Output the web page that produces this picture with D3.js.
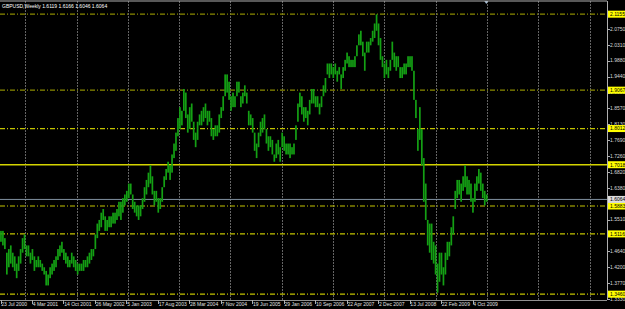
<!DOCTYPE html>
<html>
<head>
<meta charset="utf-8">
<script src="https://cdn.jsdelivr.net/npm/d3@7/dist/d3.min.js"></script>
<style>
body{margin:0;background:#000;overflow:hidden}
text{font-family:"Liberation Sans",Arial,sans-serif}
</style>
</head>
<body>
<svg id="chart" width="625" height="309"></svg>
<script>
//GBPUSD weekly, one low/high pair every second week from the start date
var startDate = "23 Jul 2000";
var lows = [
 1.49,1.48,1.47,1.40,1.42,1.43,1.42,1.41,1.39,1.41,1.43,1.46,1.47,
 1.45,1.45,1.43,1.44,1.41,1.42,1.42,1.42,1.41,1.40,1.37,1.37,1.39,
 1.40,1.41,1.42,1.44,1.45,1.46,1.44,1.43,1.42,1.42,1.43,1.42,1.41,
 1.40,1.41,1.41,1.41,1.42,1.42,1.43,1.44,1.45,1.47,1.50,1.52,1.53,
 1.55,1.52,1.52,1.53,1.53,1.54,1.54,1.55,1.56,1.55,1.57,1.59,1.60,
 1.61,1.62,1.58,1.57,1.56,1.55,1.56,1.58,1.60,1.62,1.64,1.65,1.62,
 1.59,1.60,1.57,1.58,1.60,1.64,1.66,1.68,1.66,1.68,1.72,1.74,1.78,
 1.80,1.81,1.85,1.83,1.79,1.80,1.82,1.77,1.75,1.77,1.81,1.81,1.82,
 1.83,1.81,1.82,1.78,1.77,1.78,1.78,1.79,1.83,1.85,1.89,1.90,1.88,
 1.85,1.86,1.86,1.89,1.90,1.86,1.87,1.89,1.87,1.81,1.81,1.79,1.74,
 1.72,1.75,1.78,1.79,1.80,1.76,1.74,1.75,1.73,1.71,1.72,1.73,1.71,
 1.75,1.74,1.73,1.73,1.72,1.73,1.73,1.77,1.82,1.86,1.84,1.82,1.83,
 1.81,1.84,1.87,1.87,1.86,1.86,1.84,1.86,1.89,1.90,1.95,1.94,1.95,
 1.94,1.95,1.93,1.95,1.91,1.94,1.96,1.98,1.97,1.97,1.97,1.97,2.00,
 2.03,2.03,2.00,1.96,2.01,2.01,2.03,2.04,2.05,2.07,2.03,1.99,1.97,
 1.94,1.95,1.94,1.96,1.99,1.97,1.96,1.97,1.94,1.94,1.95,1.95,1.97,
 1.97,1.96,1.88,1.83,1.74,1.77,1.70,1.60,1.55,1.48,1.46,1.44,1.43,
 1.40,1.35,1.38,1.40,1.37,1.40,1.44,1.45,1.48,1.51,1.58,1.61,1.62,
 1.60,1.63,1.64,1.62,1.62,1.60,1.57,1.60,1.63,1.65,1.63,1.61,1.59,1.60
];
var highs = [
 1.52,1.52,1.50,1.46,1.47,1.48,1.46,1.45,1.43,1.45,1.47,1.50,1.51,
 1.48,1.48,1.46,1.47,1.45,1.44,1.45,1.44,1.43,1.42,1.41,1.40,1.42,
 1.43,1.44,1.45,1.47,1.48,1.49,1.47,1.46,1.45,1.44,1.46,1.45,1.44,
 1.43,1.43,1.43,1.44,1.44,1.45,1.46,1.47,1.47,1.51,1.54,1.55,1.57,
 1.58,1.56,1.55,1.56,1.56,1.57,1.57,1.58,1.60,1.60,1.61,1.62,1.63,
 1.65,1.65,1.62,1.60,1.59,1.59,1.59,1.61,1.64,1.66,1.68,1.70,1.67,
 1.63,1.63,1.61,1.61,1.64,1.67,1.69,1.71,1.70,1.73,1.76,1.79,1.83,
 1.86,1.85,1.91,1.90,1.84,1.86,1.87,1.82,1.79,1.82,1.84,1.85,1.86,
 1.87,1.85,1.85,1.83,1.80,1.81,1.81,1.84,1.86,1.89,1.95,1.95,1.93,
 1.89,1.90,1.89,1.93,1.93,1.89,1.90,1.92,1.90,1.85,1.84,1.83,1.79,
 1.76,1.79,1.82,1.83,1.84,1.80,1.78,1.78,1.77,1.73,1.76,1.77,1.75,
 1.79,1.78,1.76,1.76,1.76,1.75,1.76,1.81,1.87,1.90,1.89,1.86,1.86,
 1.85,1.88,1.91,1.91,1.89,1.89,1.87,1.89,1.92,1.94,1.98,1.98,1.98,
 1.97,1.98,1.96,1.97,1.95,1.97,1.99,2.01,2.00,1.99,1.99,2.00,2.03,
 2.06,2.07,2.04,2.01,2.04,2.04,2.05,2.07,2.09,2.115,2.09,2.05,2.00,
 1.98,1.99,1.97,1.99,2.04,2.01,2.00,2.00,1.97,1.97,1.98,1.98,2.00,
 2.00,2.00,1.96,1.88,1.80,1.86,1.80,1.72,1.65,1.55,1.54,1.54,1.49,
 1.48,1.43,1.46,1.46,1.42,1.46,1.49,1.49,1.53,1.56,1.63,1.66,1.66,
 1.65,1.67,1.70,1.67,1.66,1.65,1.61,1.65,1.67,1.69,1.68,1.65,1.63,1.62
];

//right axis tick labels
var priceTicks = [2.0750,2.0310,1.9880,1.9440,1.9000,1.8570,1.8130,1.7690,1.7260,
                  1.6820,1.6380,1.5950,1.5510,1.4640,1.4200,1.3770,1.3330];
//horizontal lines drawn on the chart
var dashLevels = [2.1155,1.9067,1.8012,1.5883,1.5116,1.3460];
var solidLevel = 1.7018;
var bidPrice = 1.6064;
//bottom axis labels
var dateLabels = ["23 Jul 2000","4 Mar 2001","14 Oct 2001","26 May 2002","5 Jan 2003",
                  "17 Aug 2003","28 Mar 2004","7 Nov 2004","19 Jun 2005","29 Jan 2006",
                  "10 Sep 2006","22 Apr 2007","2 Dec 2007","13 Jul 2008","22 Feb 2009","4 Oct 2009"];
var header = "GBPUSD,Weekly  1.6119 1.6166 1.6046 1.6064";

var W = 625, H = 309, plotR = 607, plotT = 1.5, plotB = 300;
var parse = d3.timeParse("%d %b %Y");
var fmt = d3.format(".4f");
var d0 = parse(startDate);

var bars = lows.map(function(lo, i){
    return {date: d3.timeDay.offset(d0, 14*i), lo: lo, hi: highs[i]};
});

var x = d3.scaleTime()
    .domain([parse(dateLabels[0]), parse(dateLabels[dateLabels.length-1])])
    .range([0.5, 472.5]);
var y = d3.scaleLinear().domain([1.330, 2.149]).range([plotB, 2]);

var svg = d3.select("#chart");
svg.append("rect").attr("width", W).attr("height", H).style("fill", "#000");

//vertical dotted grid, one per year
var years = d3.timeYear.range(new Date(2001,0,1), new Date(2013,0,1))
    .filter(function(d){ return x(d) + 2 < plotR; });
svg.selectAll("line.grid").data(years).enter().append("line")
    .attr("class", "grid")
    .attr("x1", function(d){ return Math.round(x(d) + 2) + 0.5; })
    .attr("x2", function(d){ return Math.round(x(d) + 2) + 0.5; })
    .attr("y1", plotT).attr("y2", plotB)
    .style("stroke", "#c8c8c8").style("stroke-width", 1)
    .style("stroke-dasharray", "1,2");

//dash-dot levels
svg.selectAll("line.level").data(dashLevels).enter().append("line")
    .attr("class", "level")
    .attr("x1", 0).attr("x2", plotR)
    .attr("y1", function(d){ return y(d); })
    .attr("y2", function(d){ return y(d); })
    .style("stroke", function(d, i){ return i < 2 ? "#8a8a00" : "#c4c400"; })
    .style("stroke-width", 1.2)
    .style("stroke-dasharray", "5,2,1,2");

svg.append("line")
    .attr("x1", 0).attr("x2", plotR)
    .attr("y1", y(solidLevel)).attr("y2", y(solidLevel))
    .style("stroke", "#d4d400").style("stroke-width", 1.4);

svg.append("line")
    .attr("x1", 0).attr("x2", plotR)
    .attr("y1", y(bidPrice)).attr("y2", y(bidPrice))
    .style("stroke", "#8090a0").style("stroke-width", 1);

//price bars
svg.selectAll("rect.bar").data(bars).enter().append("rect")
    .attr("class", "bar")
    .attr("x", function(d){ return x(d.date) - 0.4; })
    .attr("width", 1.7)
    .attr("y", function(d){ return y(d.hi); })
    .attr("height", function(d){ return y(d.lo) - y(d.hi); })
    .style("fill", "#14a014");

//chart shift marker
var last = bars[bars.length-1];
svg.append("path")
    .attr("d", "M" + (x(last.date)-2) + ",1L" + (x(last.date)+2) + ",1L" + x(last.date) + ",4Z")
    .style("fill", "#a8c0d8");

//frame
svg.append("line").attr("x1", 0).attr("x2", plotR).attr("y1", 1).attr("y2", 1)
    .style("stroke", "#b0b0b0");
svg.append("line").attr("x1", plotR + 0.5).attr("x2", plotR + 0.5).attr("y1", 1).attr("y2", plotB)
    .style("stroke", "#b0b0b0");
svg.append("line").attr("x1", 0).attr("x2", plotR).attr("y1", plotB + 0.5).attr("y2", plotB + 0.5)
    .style("stroke", "#909090");

//right axis
var ra = svg.append("g");
ra.selectAll("line").data(priceTicks).enter().append("line")
    .attr("x1", plotR).attr("x2", plotR + 3)
    .attr("y1", function(d){ return Math.round(y(d)) + 0.5; })
    .attr("y2", function(d){ return Math.round(y(d)) + 0.5; })
    .style("stroke", "#b0b0b0");
ra.selectAll("text").data(priceTicks).enter().append("text")
    .attr("x", plotR + 3)
    .attr("y", function(d){ return y(d); })
    .attr("dy", "0.36em")
    .style("font-size", "5px").style("fill", "#d8d8d8")
    .text(function(d){ return fmt(d); });

//highlighted price labels
var marks = dashLevels.concat([solidLevel]).map(function(v){ return {v: v, bg: "#ffff00"}; });
marks.push({v: bidPrice, bg: "#dcdcdc"});
var mk = svg.selectAll("g.mark").data(marks).enter().append("g").attr("class", "mark");
mk.append("rect")
    .attr("x", plotR + 1).attr("width", W - plotR)
    .attr("y", function(d){ return y(d.v) - 3.5; })
    .attr("height", 7)
    .style("fill", function(d){ return d.bg; });
mk.append("text")
    .attr("x", plotR + 3)
    .attr("y", function(d){ return y(d.v); })
    .attr("dy", "0.36em")
    .style("font-size", "5px").style("fill", "#000")
    .text(function(d){ return fmt(d.v); });

//bottom axis
var ba = svg.selectAll("g.date").data(dateLabels).enter().append("g").attr("class", "date");
ba.append("line")
    .attr("x1", function(d){ return Math.round(x(parse(d))) + 0.5; })
    .attr("x2", function(d){ return Math.round(x(parse(d))) + 0.5; })
    .attr("y1", plotB).attr("y2", plotB + 4)
    .style("stroke", "#b0b0b0");
ba.append("text")
    .attr("x", function(d){ return x(parse(d)) + 0.8; })
    .attr("y", 305.5)
    .style("font-size", "5px").style("fill", "#e0e0e0")
    .text(function(d){ return d; });

svg.append("text").attr("x", 2).attr("y", 7.5)
    .style("font-size", "5px").style("fill", "#ffffff")
    .text(header);
</script>
</body>
</html>
